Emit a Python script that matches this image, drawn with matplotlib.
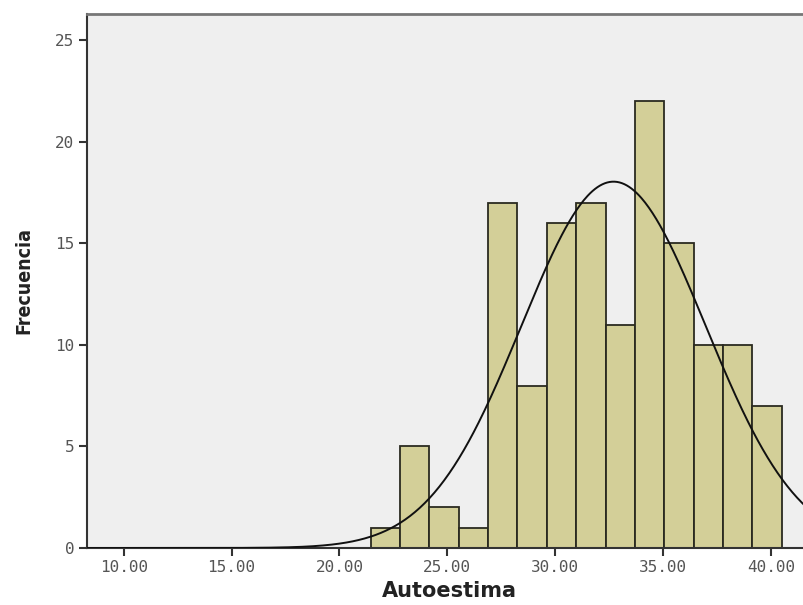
import numpy as np
import matplotlib
matplotlib.use("Agg")
import matplotlib.pyplot as plt

# Data
bin_start = 21.45
bin_width = 1.36
counts = [1, 5, 2, 1, 17, 8, 16, 17, 11, 22, 15, 10, 10, 7]
curve_mean = 32.7
curve_sd = 4.27
x_ticks = [10, 15, 20, 25, 30, 35, 40]
x_ticklabels = ["10.00", "15.00", "20.00", "25.00", "30.00", "35.00", "40.00"]
y_ticks = [0, 5, 10, 15, 20, 25]

n_total = sum(counts)
edges = bin_start + bin_width * np.arange(len(counts) + 1)

fig = plt.figure(figsize=(8.04, 6.05), dpi=100)
ax = fig.add_axes([87 / 804, 1 - 548 / 605, 1 - 87 / 804 + 0.01, (548 - 14) / 605])
ax.set_facecolor("#efefef")

ax.bar(edges[:-1], counts, width=bin_width, align="edge",
       color="#d3cf98", edgecolor="#2a2a20", linewidth=1.3, zorder=2)

xs = np.linspace(8.0, 42.0, 600)
ys = n_total * bin_width / (curve_sd * np.sqrt(2 * np.pi)) * np.exp(-0.5 * ((xs - curve_mean) / curve_sd) ** 2)
ax.plot(xs, ys, color="#111111", linewidth=1.4, zorder=3)

ax.set_xlim(8.3, 41.9)
ax.set_ylim(0, 26.3)
ax.set_xticks(x_ticks)
ax.set_xticklabels(x_ticklabels)
ax.set_yticks(y_ticks)

for s in ["left", "bottom"]:
    ax.spines[s].set_color("#333333")
    ax.spines[s].set_linewidth(1.5)
ax.spines["top"].set_color("#777777")
ax.spines["top"].set_linewidth(2)
ax.spines["right"].set_visible(False)

ax.tick_params(axis="both", colors="#333333", labelcolor="#555555", length=6, width=1.5,
               labelsize=11.5, pad=3)
for lab in ax.get_xticklabels() + ax.get_yticklabels():
    lab.set_family("DejaVu Sans Mono")

ax.set_xlabel("Autoestima", fontsize=15, fontweight="bold", color="#222222", labelpad=4,
              family="DejaVu Sans")
ax.set_ylabel("Frecuencia", fontsize=14, color="#222222", labelpad=16,
              family="DejaVu Sans", fontstretch="condensed", fontweight="bold")

fig.savefig("out.png", dpi=100, facecolor="white")
